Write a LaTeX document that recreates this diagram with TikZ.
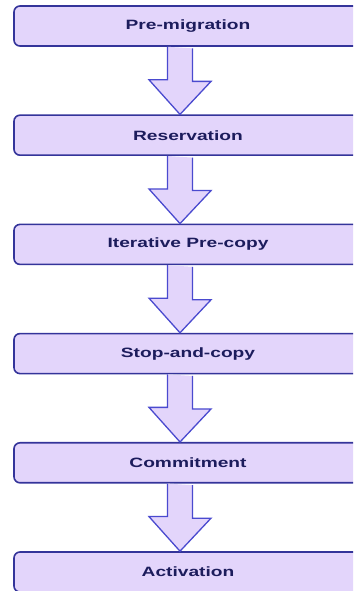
\documentclass[tikz,border=0pt]{standalone}
\usepackage{fontspec}
\setmainfont{Liberation Sans}
\usepackage{graphicx}
\usetikzlibrary{calc}
\definecolor{boxfill}{HTML}{E3D5FB}
\definecolor{boxline}{HTML}{34349A}
\definecolor{arrline}{HTML}{4A4ACF}
\definecolor{txt}{HTML}{1C1C5C}
\tikzset{
  stagebox/.style={draw=boxline, line width=1.6pt, fill=boxfill, rounded corners=6pt,
    minimum width=348pt, minimum height=40pt, inner sep=0pt,
    text=txt, font=\fontsize{13.5}{16}\selectfont\bfseries},
  bigarrow/.style={draw=arrline, line width=1.3pt, fill=boxfill, line join=miter}
}
\newcommand{\stxt}[1]{\scalebox{1.42}[1]{#1}}
\begin{document}
\begin{tikzpicture}[x=1pt,y=1pt]
\useasboundingbox (0,0) rectangle (353,591);
\clip (0,0) rectangle (353,591);
\fill[white] (0,0) rectangle (353,591);
\foreach \i/\t in {1/Pre-migration,2/Reservation,3/Iterative Pre-copy,4/Stop-and-copy,5/Commitment,6/Activation}{
  \node[stagebox] (b\i) at (188,{591-26-109.2*(\i-1)}) {\stxt{\t}};
}
\foreach \i [evaluate=\i as \j using int(\i+1)] in {1,...,5}{
  \draw[bigarrow] ($(b\i.south)+(-20.5,0)$)
    -- ++(0,-33) -- ++(-18.5,0) -- ($(b\j.north)+(-8,0)$) -- ++(31,33) -- ++(-18.5,0) -- ++(0,33);
}
\end{tikzpicture}
\end{document}
